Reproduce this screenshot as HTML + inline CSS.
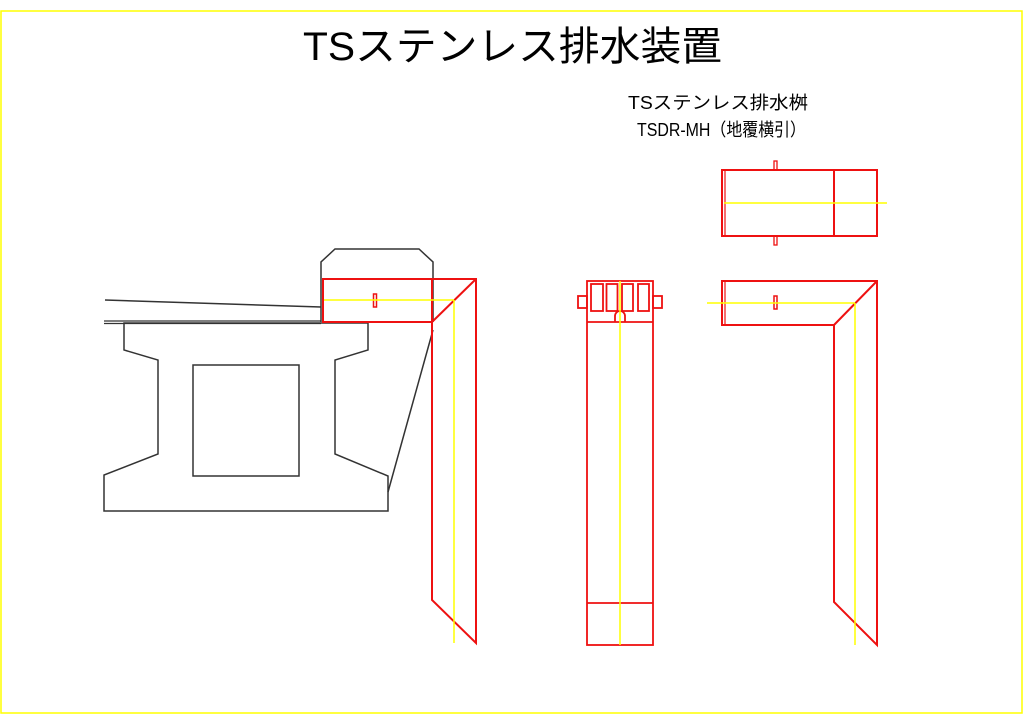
<!DOCTYPE html>
<html><head><meta charset="utf-8"><style>
html,body{margin:0;padding:0;background:#fff;}
svg{display:block;}
text{font-family:"Liberation Sans","Noto Sans CJK JP",sans-serif;fill:#000;}
</style></head><body>
<svg width="1024" height="724" viewBox="0 0 1024 724" xmlns="http://www.w3.org/2000/svg">
<rect x="1" y="11" width="1021" height="702" fill="none" stroke="#ffff00" stroke-width="1.5"/>
<text x="303" y="60" font-size="40" textLength="419" lengthAdjust="spacingAndGlyphs">TSステンレス排水装置</text>
<text x="628" y="109" font-size="18" textLength="180" lengthAdjust="spacingAndGlyphs">TSステンレス排水桝</text>
<text x="637" y="136" font-size="18" textLength="169" lengthAdjust="spacingAndGlyphs">TSDR-MH（地覆横引）</text>

<!-- left: black structure -->
<g fill="none" stroke="#333" stroke-width="1.5">
<polyline points="321,322 321,262 335,249 419,249 433,262 433,322"/>
<line x1="105" y1="300" x2="321" y2="307"/>
<line x1="104" y1="321" x2="321" y2="321" stroke-width="1.2"/>
<line x1="104" y1="323.5" x2="321" y2="323.5" stroke-width="1.2"/>
<polygon points="124,323 124,350 158,360 158,454 104,475 104,511 388,511 388,476 335,454 335,360 368,350 368,323"/>
<rect x="193" y="365" width="106" height="111"/>
<line x1="388" y1="492" x2="433" y2="330"/>
</g>
<!-- left: red drain -->
<g fill="none" stroke="#ee1111" stroke-width="2">
<rect x="323" y="279" width="109" height="43"/>
<polyline points="432,279 476,279 476,643 432,600 432,322"/>
<line x1="432" y1="322" x2="476" y2="279"/>
<rect x="373.5" y="294" width="3" height="13" stroke-width="1.5"/>
</g>
<g stroke="#ffff00" stroke-width="1.5">
<line x1="324" y1="300" x2="454" y2="300"/>
<line x1="454" y1="300" x2="454" y2="643"/>
</g>

<!-- middle -->
<g fill="none" stroke="#ee1111" stroke-width="1.8">
<rect x="587" y="281" width="66" height="364"/>
<line x1="587" y1="322" x2="653" y2="322"/>
<line x1="587" y1="603" x2="653" y2="603"/>
<rect x="578" y="296" width="9" height="12"/>
<rect x="653" y="296" width="9" height="12"/>
<rect x="591" y="284" width="12" height="27"/>
<rect x="606.5" y="284" width="11" height="27"/>
<rect x="622" y="284" width="11" height="27"/>
<rect x="638" y="284" width="11" height="27"/>
<path d="M615,322 V316 A5,5 0 0 1 625,316 V322"/>
</g>
<line x1="620" y1="281" x2="620" y2="645" stroke="#ffff00" stroke-width="1.5"/>

<!-- right top -->
<g fill="none" stroke="#ee1111" stroke-width="2">
<rect x="722" y="170" width="155" height="66"/>
<line x1="725" y1="170" x2="725" y2="236" stroke-width="1.2"/>
<line x1="834" y1="170" x2="834" y2="236"/>
<rect x="774" y="161" width="3" height="9" stroke-width="1.3"/>
<rect x="774" y="236" width="3" height="9" stroke-width="1.3"/>
</g>
<line x1="724" y1="203" x2="887" y2="203" stroke="#ffff00" stroke-width="1.5"/>

<!-- right bottom -->
<g fill="none" stroke="#ee1111" stroke-width="2">
<polygon points="722,281 877,281 877,645 834,602 834,325 722,325"/>
<line x1="725" y1="281" x2="725" y2="325" stroke-width="1.2"/>
<line x1="834" y1="325" x2="877" y2="281"/>
<rect x="774" y="296" width="3" height="13" stroke-width="1.5"/>
</g>
<g stroke="#ffff00" stroke-width="1.5">
<line x1="707" y1="303" x2="855" y2="303"/>
<line x1="855" y1="303" x2="855" y2="645"/>
</g>
</svg>
</body></html>
